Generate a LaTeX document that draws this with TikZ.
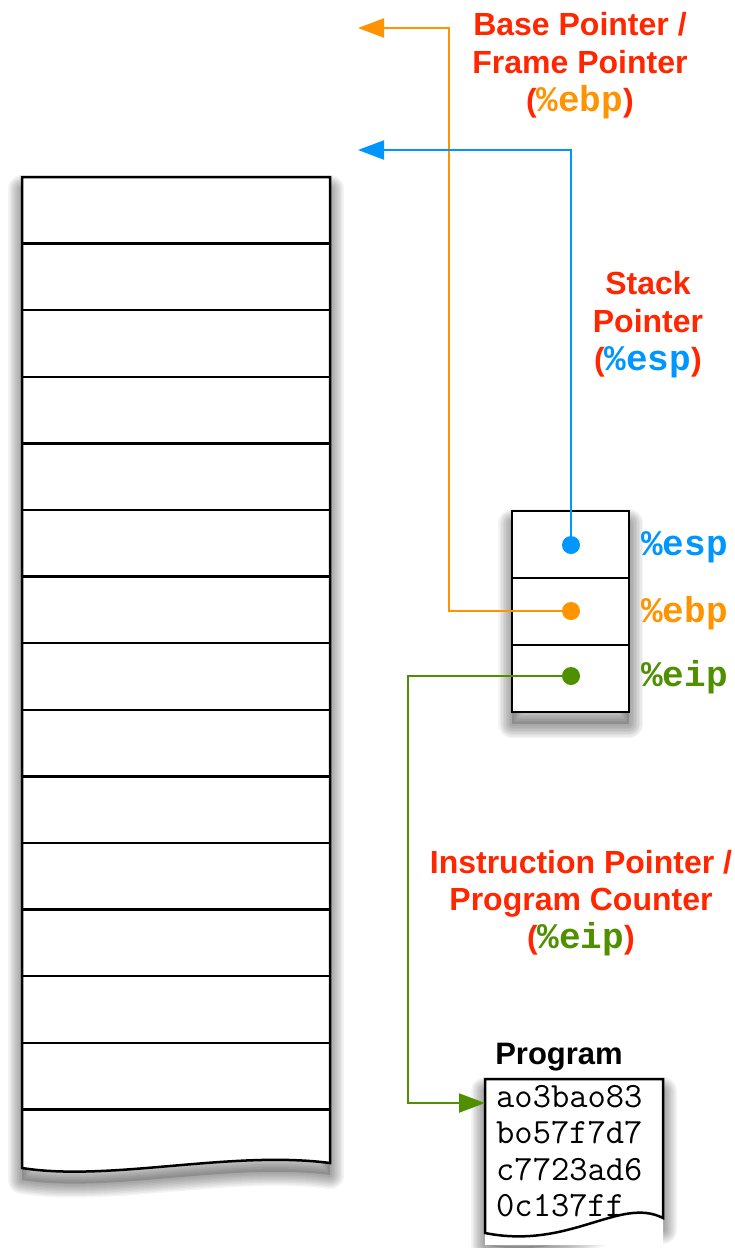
\documentclass[tikz,border=0pt]{standalone}
\usepackage{fontspec}
\setmainfont{Liberation Sans}
\newfontfamily\monof{Liberation Mono}
\usetikzlibrary{arrows.meta}
\definecolor{lblred}{RGB}{255,38,0}
\definecolor{ebpc}{RGB}{255,147,0}
\definecolor{espc}{RGB}{0,150,255}
\definecolor{eipc}{RGB}{79,143,0}
\newcommand\softshadow[1]{%
  \begin{scope}[yshift=-12pt]
    \foreach \w in {28,25,22,19,16,13,10,7,4}{\draw[black,opacity=0.045,line width=\w pt,line join=round] #1;}
    \fill[black,opacity=0.15] #1;
  \end{scope}}
\begin{document}
\begin{tikzpicture}[x=1pt,y=-1pt,
  lbl/.style={font=\fontsize{32}{38}\selectfont\bfseries, text=lblred, anchor=base, inner sep=0pt},
  reglbl/.style={font=\fontsize{36}{38}\selectfont\monof\bfseries, anchor=base west, inner sep=0pt},
  progtxt/.style={font=\fontsize{35.5}{36}\selectfont\ttfamily, anchor=base west, inner sep=0pt},
  regcell/.style={draw, line width=2.5pt, fill=white, minimum width=117pt, minimum height=67pt, inner sep=0pt},
  dot/.style={circle, minimum size=18pt, inner sep=0pt},
  conn/.style={line width=2pt, -{Triangle[length=26pt,width=19pt]}},
  outline/.style={line width=2.5pt, line join=miter},
]
\useasboundingbox (0,0) rectangle (735,1248);
\fill[white] (0,0) rectangle (735,1248);

% stack
\softshadow{(22,177) -- (330,177) -- (330,1163) .. controls (230,1150) and (110,1182) .. (22,1168) -- cycle}
\fill[white] (22,177) -- (330,177) -- (330,1163) .. controls (230,1150) and (110,1182) .. (22,1168) -- cycle;
\foreach \k in {1,...,14}{\draw[line width=2.5pt] (22,177+66.6*\k) -- (330,177+66.6*\k);}
\draw[outline] (22,177) -- (330,177) -- (330,1163) .. controls (230,1150) and (110,1182) .. (22,1168) -- cycle;

% register box
\softshadow{(512,511) rectangle (629,712)}
\node[regcell] (espcell) at (570.5,544.5) {};
\node[regcell] (ebpcell) at (570.5,611.5) {};
\node[regcell] (eipcell) at (570.5,678.5) {};

% program box
\softshadow{(485,1079) -- (663,1079) -- (663,1218) .. controls (620,1196) and (570,1250) .. (485,1233) -- cycle}
\fill[white] (485,1079) -- (663,1079) -- (663,1218) .. controls (620,1196) and (570,1250) .. (485,1233) -- cycle;
\node[progtxt] (p1) at (496,1107) {ao3bao83};
\node[progtxt] (p2) at (496,1143.5) {bo57f7d7};
\node[progtxt] (p3) at (496,1180) {c7723ad6};
\node[progtxt] (p4) at (496,1216.5) {0c137ff};
\fill[white] (663,1218) .. controls (620,1196) and (570,1250) .. (485,1233) -- (485,1245) -- (663,1245) -- cycle;
\draw[outline] (485,1079) -- (663,1079) -- (663,1218) .. controls (620,1196) and (570,1250) .. (485,1233) -- cycle;
\node[font=\fontsize{31}{36}\selectfont\bfseries, anchor=base, inner sep=0pt] (progtitle) at (559,1064) {Program};

% coordinates
\coordinate (ebpturn) at (449,28);
\coordinate (ebptip) at (358,28);
\coordinate (esptip) at (358,150);
\coordinate (eipturn) at (408,1103);
\coordinate (progin) at (485,1103);

% dots
\node[dot] (espdot) at (571,545) {};
\node[dot] (ebpdot) at (571,611) {};
\node[dot] (eipdot) at (571,676) {};

% connectors
\draw[conn, ebpc] (ebpdot.center) -| (ebpturn) -- (ebptip);
\draw[conn, espc] (espdot.center) |- (esptip);
\draw[conn, eipc] (eipdot.center) -| (eipturn) -- (progin);

\fill[espc] (espdot) circle (9pt);
\fill[ebpc] (ebpdot) circle (9pt);
\fill[eipc] (eipdot) circle (9pt);

% register labels
\node[reglbl, text=espc] (esplbl) at (641,555) {\%esp};
\node[reglbl, text=ebpc] (ebplbl) at (641,622) {\%ebp};
\node[reglbl, text=eipc] (eiplbl) at (641,686) {\%eip};

% titles
\node[lbl] (bp1) at (580,35) {Base Pointer /};
\node[lbl] (bp2) at (580,73) {Frame Pointer};
\node[lbl] (bp3) at (580,111) {({\fontsize{36}{38}\selectfont\monof\bfseries\color{ebpc}\%ebp})};
\node[lbl] (sp1) at (648,294) {Stack};
\node[lbl] (sp2) at (648,332) {Pointer};
\node[lbl] (sp3) at (648,370) {({\fontsize{36}{38}\selectfont\monof\bfseries\color{espc}\%esp})};
\node[lbl] (ip1) at (581,873) {Instruction Pointer /};
\node[lbl] (ip2) at (581,910) {Program Counter};
\node[lbl] (ip3) at (581,948) {({\fontsize{36}{38}\selectfont\monof\bfseries\color{eipc}\%eip})};
\end{tikzpicture}
\end{document}
